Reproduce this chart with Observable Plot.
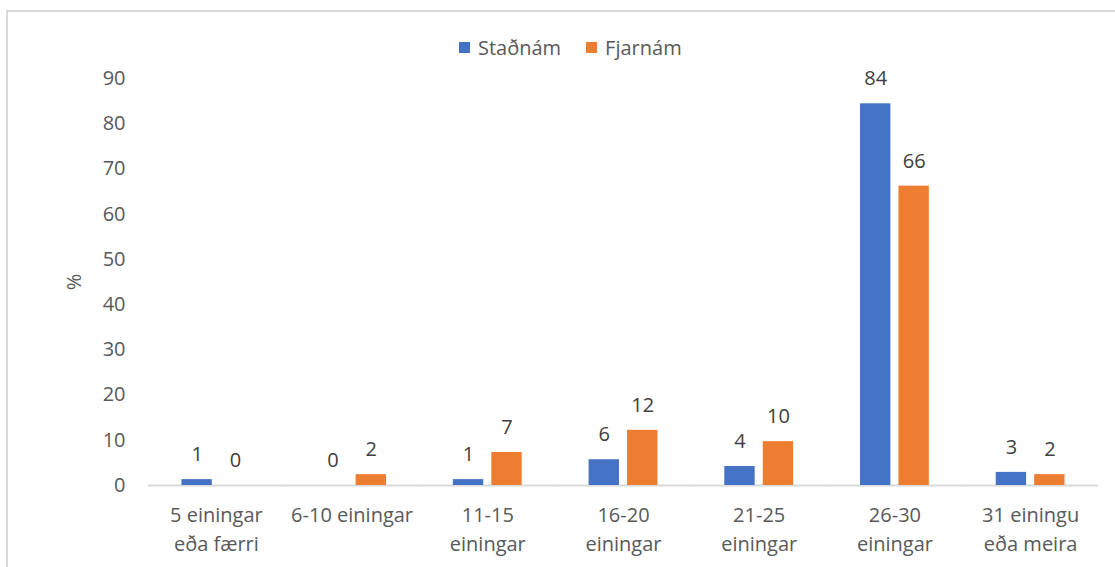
<!DOCTYPE html>
<html><head><meta charset="utf-8">
<script src="https://cdn.jsdelivr.net/npm/d3@7"></script>
<script src="https://cdn.jsdelivr.net/npm/@observablehq/plot@0.6"></script>
<style>
body{margin:0;background:#fff;font-family:"Open Sans",sans-serif;overflow:hidden;width:1115px;height:567px;position:relative}
#frame{position:absolute;left:6px;top:10px;width:1200px;height:700px;border:2px solid #d9d9d9;box-sizing:border-box}
#legend{position:absolute;top:34px;left:459px;display:flex;align-items:center;font-size:20px;color:#595959;white-space:nowrap}
#legend .sw{width:11px;height:11px;display:inline-block;margin-right:8px}
#legend .item{display:flex;align-items:center;margin-right:25px}
#chart{position:absolute;left:0;top:60px}
</style></head>
<body>
<div id="frame"></div>
<div id="legend"></div>
<div id="chart"></div>
<script>
const categories = ["5 einingar\neða færri","6-10 einingar","11-15\neiningar","16-20\neiningar","21-25\neiningar","26-30\neiningar","31 einingu\neða meira"];
const series = ["Staðnám","Fjarnám"];
const colors = ["#4472C4","#ED7D31"];
const stadnam = [1.3, 0, 1.3, 5.7, 4.2, 84.4, 2.9];
const fjarnam = [0, 2.4, 7.3, 12.2, 9.7, 66.2, 2.4];
const yTicks = [0,10,20,30,40,50,60,70,80,90];

const rows = [];
categories.forEach((c,i)=>{
  rows.push({cat:c, series:series[0], value:stadnam[i]});
  rows.push({cat:c, series:series[1], value:fjarnam[i]});
});

const legend = document.getElementById("legend");
series.forEach((s,i)=>{
  const it = document.createElement("span"); it.className="item";
  const sw = document.createElement("span"); sw.className="sw"; sw.style.background=colors[i];
  it.appendChild(sw); it.appendChild(document.createTextNode(s));
  legend.appendChild(it);
});

const chart = Plot.plot({
  width:1115, height:507,
  marginLeft:148, marginRight:17, marginTop:18, marginBottom:82,
  style:{fontFamily:"'Open Sans', sans-serif", fontSize:"20px", color:"#595959", background:"transparent", overflow:"visible"},
  fx:{domain:categories, padding:0, label:null, round:false},
  x:{domain:series, paddingInner:0.21, paddingOuter:0.87, round:false},
  y:{domain:[0,90]},
  color:{domain:series, range:colors},
  marks:[
    Plot.axisY({ticks:yTicks, tickSize:0, tickPadding:23, label:"%", labelAnchor:"center", labelOffset:82, labelArrow:"none"}),
    Plot.axisFx({anchor:"bottom", tickSize:0, tickPadding:16, lineHeight:1.45, label:null}),
    Plot.axisX({ticks:[], label:null}),
    Plot.ruleY([0], {stroke:"#d9d9d9", strokeWidth:2}),
    Plot.barY(rows, {fx:"cat", x:"series", y:"value", fill:"series"}),
    Plot.text(rows, {fx:"cat", x:"series", y:"value", text:d=>d3.format(".0f")(d.value), lineAnchor:"middle", dy:-25, fill:"#404040"})
  ]
});
document.getElementById("chart").appendChild(chart);
</script>
</body></html>
